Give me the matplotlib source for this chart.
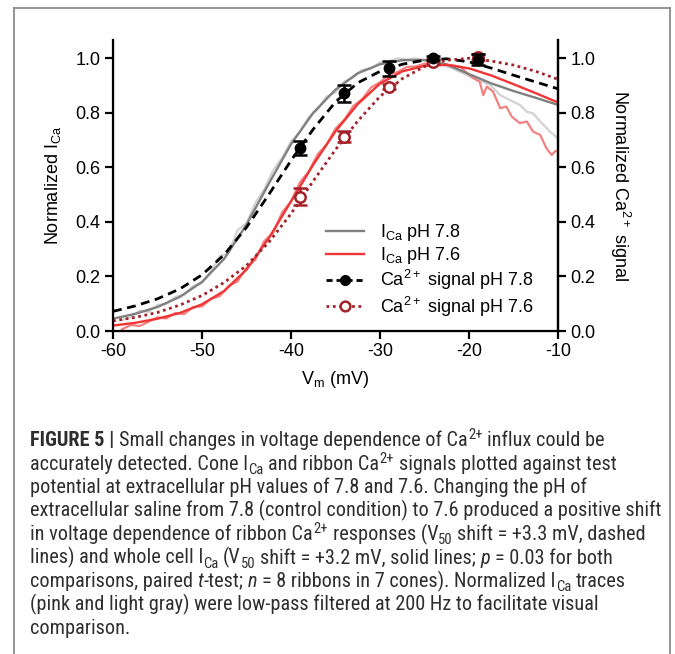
import matplotlib
matplotlib.use("Agg")
import matplotlib.pyplot as plt
from matplotlib.lines import Line2D
from matplotlib import font_manager

# ---------------- data ----------------
fit_v = [-60, -57.5, -55, -52.5, -50, -47.5, -45, -42.5, -40, -37.5, -35,
         -32.5, -30, -27.5, -25, -22.5, -20, -17.5, -15, -12.5, -10]
ica78_fit = [0.045, 0.063, 0.088, 0.125, 0.18, 0.265, 0.39, 0.54, 0.685, 0.80, 0.885,
             0.945, 0.978, 0.993, 0.994, 0.977, 0.942, 0.908, 0.88, 0.855, 0.829]
ica76_fit = [0.02, 0.03, 0.045, 0.066, 0.098, 0.147, 0.225, 0.34, 0.475, 0.61, 0.732,
             0.832, 0.907, 0.952, 0.972, 0.976, 0.963, 0.937, 0.905, 0.872, 0.838]
ca78_fit = [0.072, 0.092, 0.118, 0.154, 0.206, 0.28, 0.38, 0.50, 0.625, 0.74, 0.84,
            0.91, 0.952, 0.978, 0.993, 0.998, 0.987, 0.964, 0.938, 0.913, 0.888]
ca76_fit = [0.037, 0.05, 0.068, 0.095, 0.13, 0.178, 0.24, 0.325, 0.43, 0.55, 0.665,
            0.77, 0.86, 0.925, 0.97, 0.993, 1.0, 0.99, 0.975, 0.952, 0.923]

# filtered traces
pink_v = [-59, -58, -57, -56, -55, -54, -53, -52, -51, -50, -49, -48, -47, -46, -45,
          -44, -43, -42, -41, -40, -39, -38, -37, -36, -35, -34, -33, -32, -31, -30,
          -29, -28, -27, -26, -25, -24, -23, -22, -21, -20, -19.5, -18.8, -18.4, -18,
          -17.3, -16.5, -15.8, -15.2, -14.3, -13.5, -12.8, -12, -11.3, -10.7, -10.3, -10]
pink_y = [0.006, 0.022, 0.018, 0.034, 0.05, 0.046, 0.066, 0.062, 0.088, 0.09, 0.118,
          0.128, 0.165, 0.182, 0.232, 0.262, 0.33, 0.36, 0.435, 0.475, 0.545, 0.585,
          0.648, 0.684, 0.742, 0.775, 0.825, 0.85, 0.893, 0.912, 0.94, 0.95, 0.968,
          0.97, 0.98, 0.985, 0.978, 0.975, 0.969, 0.94, 0.927, 0.914, 0.865, 0.896,
          0.878, 0.817, 0.823, 0.786, 0.762, 0.768, 0.731, 0.719, 0.670, 0.645, 0.66, 0.658]
lgray_v = [-59, -58, -57, -56, -55, -54, -53, -52, -51, -50, -49, -48, -47, -46, -45,
           -44, -43, -42, -41, -40, -39, -38, -37, -36, -35, -34, -33, -32, -31, -30,
           -29, -28, -27, -26, -25, -24, -23, -22, -21, -19.5, -17.6, -16.5, -15.8,
           -14.3, -13.5, -12.8, -12, -10.9, -10]
lgray_y = [0.04, 0.05, 0.075, 0.07, 0.095, 0.1, 0.125, 0.132, 0.165, 0.175, 0.22,
           0.275, 0.285, 0.37, 0.395, 0.47, 0.52, 0.59, 0.635, 0.695, 0.73, 0.785,
           0.812, 0.86, 0.875, 0.915, 0.93, 0.958, 0.962, 0.985, 0.99, 1.0, 0.995,
           1.0, 0.99, 0.985, 0.975, 0.965, 0.95, 0.927, 0.902, 0.865, 0.853, 0.829,
           0.804, 0.798, 0.768, 0.731, 0.706]

pts_v = [-39, -34, -29, -24, -19]
ca78_pts = [0.67, 0.871, 0.963, 1.0, 0.994]
ca78_err = [0.025, 0.03, 0.028, 0.008, 0.02]
ca76_pts = [0.493, 0.713, 0.896, 0.988, 1.004]
ca76_err = [0.03, 0.02, 0.01, 0.01, 0.01]

x_ticks = [-60, -50, -40, -30, -20, -10]
y_ticks = [0.0, 0.2, 0.4, 0.6, 0.8, 1.0]
legend_labels = [r"I$_{\rm Ca}$ pH 7.8", r"I$_{\rm Ca}$ pH 7.6",
                 r"Ca$^{2+}$ signal pH 7.8", r"Ca$^{2+}$ signal pH 7.6"]

# caption: each line is a list of (text, style) pieces
caption_lines = [
    [("FIGURE 5 |", "b"), (" Small changes in voltage dependence of Ca", "n"),
     ("2+", "sup"), (" influx could be", "n")],
    [("accurately detected. Cone I", "n"), ("Ca", "sub"), (" and ribbon Ca", "n"),
     ("2+", "sup"), (" signals plotted against test", "n")],
    [("potential at extracellular pH values of 7.8 and 7.6. Changing the pH of", "n")],
    [("extracellular saline from 7.8 (control condition) to 7.6 produced a positive shift", "n")],
    [("in voltage dependence of ribbon Ca", "n"), ("2+", "sup"), (" responses (V", "n"),
     ("50", "sub"), (" shift = +3.3 mV, dashed", "n")],
    [("lines) and whole cell I", "n"), ("Ca", "sub"), (" (V", "n"), ("50", "sub"),
     (" shift = +3.2 mV, solid lines; ", "n"), ("p", "i"), (" = 0.03 for both", "n")],
    [("comparisons, paired ", "n"), ("t", "i"), ("-test; ", "n"), ("n", "i"),
     (" = 8 ribbons in 7 cones). Normalized I", "n"), ("Ca", "sub"), (" traces", "n")],
    [("(pink and light gray) were low-pass filtered at 200 Hz to facilitate visual", "n")],
    [("comparison.", "n")],
]

# ---------------- fonts ----------------
def has_font(name):
    try:
        font_manager.findfont(font_manager.FontProperties(family=name),
                              fallback_to_default=False)
        return True
    except Exception:
        return False

cap_font = "Liberation Sans"
for cand in ["Liberation Sans Narrow", "Roboto Condensed", "Open Sans Condensed",
             "Noto Sans Condensed", "DejaVu Sans Condensed"]:
    if has_font(cand):
        cap_font = cand
        break

plt.rcParams["font.family"] = ["Liberation Sans", "DejaVu Sans"]
plt.rcParams["mathtext.fontset"] = "custom"
plt.rcParams["mathtext.rm"] = "Liberation Sans"
plt.rcParams["mathtext.it"] = "Liberation Sans:italic"
plt.rcParams["mathtext.bf"] = "Liberation Sans:bold"

W, H = 675, 654
fig = plt.figure(figsize=(W / 100, H / 100), dpi=100)
fig.patch.set_facecolor("white")

ax = fig.add_axes([113 / W, 1 - 331 / H, 445 / W, 291 / H])
ax.set_xlim(-60, -10)
ax.set_ylim(0, 1.067)

GRAY = "#808080"
RED = "#ef3535"
DARKRED = "#a3222a"
LGRAY = "#d2d2d2"
PINK = "#f28282"

ax.plot(lgray_v, lgray_y, color=LGRAY, lw=1.6, zorder=2)
ax.plot(pink_v, pink_y, color=PINK, lw=1.6, zorder=2)
ax.plot(fit_v, ica78_fit, color=GRAY, lw=1.7, zorder=3)
ax.plot(fit_v, ica76_fit, color=RED, lw=1.7, zorder=3)
ax.plot(fit_v, ca78_fit, color="black", lw=2.0, dashes=(3.2, 2.0), zorder=4)
ax.plot(fit_v, ca76_fit, color=DARKRED, lw=2.0, dashes=(1.0, 1.3), zorder=4)

ax.errorbar(pts_v, ca78_pts, yerr=ca78_err, fmt="o", color="black", ms=7.5,
            capsize=5, capthick=1.8, elinewidth=1.8, zorder=6)
ax.errorbar(pts_v, ca76_pts, yerr=ca76_err, fmt="o", color=DARKRED, mfc="white",
            mec=DARKRED, mew=1.8, ms=7.5, capsize=5, capthick=1.8, elinewidth=1.8,
            zorder=5)

ax.spines["top"].set_visible(False)
for s in ["left", "right", "bottom"]:
    ax.spines[s].set_linewidth(1.6)
ax.set_xticks(x_ticks)
ax.set_xticklabels([str(t) for t in x_ticks])
ax.set_yticks(y_ticks)
ax.set_yticklabels([f"{t:.1f}" for t in y_ticks])
ax.tick_params(axis="both", direction="out", length=6, width=1.6, labelsize=13,
               pad=3)
ax.set_xlabel(r"V$_{\rm m}$ (mV)", fontsize=13, labelpad=6)
ax.set_ylabel(r"Normalized I$_{\rm Ca}$", fontsize=13, labelpad=9)

ax2 = ax.twinx()
ax2.set_ylim(0, 1.067)
ax2.set_yticks(y_ticks)
ax2.set_yticklabels([f"{t:.1f}" for t in y_ticks])
ax2.tick_params(axis="y", direction="out", length=6, width=1.6, labelsize=13, pad=3)
ax2.spines["top"].set_visible(False)
ax2.spines["right"].set_linewidth(1.6)
ax2.set_ylabel(r"Normalized Ca$^{2+}$ signal", fontsize=13, rotation=270,
               labelpad=26)

handles = [
    Line2D([], [], color=GRAY, lw=1.7),
    Line2D([], [], color=RED, lw=1.7),
    Line2D([], [], color="black", lw=2.0, dashes=(2.2, 1.4), marker="o", ms=7),
    Line2D([], [], color=DARKRED, lw=2.0, dashes=(1.0, 1.3), marker="o", ms=7,
           mfc="white", mew=1.8),
]
leg = ax.legend(handles, legend_labels, loc="upper left",
                bbox_to_anchor=(326 / W, 1 - 222 / H),
                bbox_transform=fig.transFigure, frameon=False, fontsize=13,
                handlelength=2.1, handletextpad=0.9, labelspacing=0.12,
                borderpad=0, borderaxespad=0)

# frame around the figure panel
bc = "#8c8c8c"
fig.add_artist(Line2D([14 / W, 14 / W], [0, 1 - 8 / H], transform=fig.transFigure,
                      color=bc, lw=1.3))
fig.add_artist(Line2D([670 / W, 670 / W], [0, 1 - 8 / H], transform=fig.transFigure,
                      color=bc, lw=1.3))
fig.add_artist(Line2D([14 / W, 670 / W], [1 - 8 / H, 1 - 8 / H],
                      transform=fig.transFigure, color=bc, lw=1.3))

# ---------------- caption (rich text laid out piece by piece) ----------------
renderer = fig.canvas.get_renderer()
CAP_COLOR = "#2e2e2e"


def text_width(s, size, weight="normal", style="normal"):
    t = fig.text(0, 0, s, fontsize=size, family=[cap_font, "DejaVu Sans"],
                 weight=weight, style=style)
    w = t.get_window_extent(renderer).width
    t.remove()
    return w


def draw_line(segs, x0, baseline, size, draw=True):
    px = size * 100 / 72
    space_w = text_width("x x", size) - text_width("xx", size)
    x = x0
    for txt, st in segs:
        lead = len(txt) - len(txt.lstrip(" "))
        trail = len(txt) - len(txt.rstrip(" "))
        core = txt.strip(" ")
        x += lead * space_w
        if core:
            fs, dy, weight, style = size, 0.0, "normal", "normal"
            if st == "b":
                weight = "bold"
            elif st == "i":
                style = "italic"
            elif st == "sub":
                fs, dy = size * 0.72, 0.22 * px
            elif st == "sup":
                fs, dy = size * 0.72, -0.33 * px
                x += 0.04 * px
            t = fig.text(x / W, 1 - (baseline + dy) / H, core, fontsize=fs,
                         family=[cap_font, "DejaVu Sans"], weight=weight,
                         style=style, color=CAP_COLOR, ha="left", va="baseline")
            w = t.get_window_extent(renderer).width
            if not draw:
                t.remove()
            x += w
        x += trail * space_w
    return x - x0


# fit the font size so that no line runs past its reference width
trial = 12.0
targets = {0: 598, 3: 630, 4: 625}
cap_size = trial * min(tw / draw_line(caption_lines[i], 0, 0, trial, draw=False)
                       for i, tw in targets.items())

for i, segs in enumerate(caption_lines):
    draw_line(segs, 30, 446 + i * 23.5, cap_size)

fig.savefig("out.png", dpi=100)
